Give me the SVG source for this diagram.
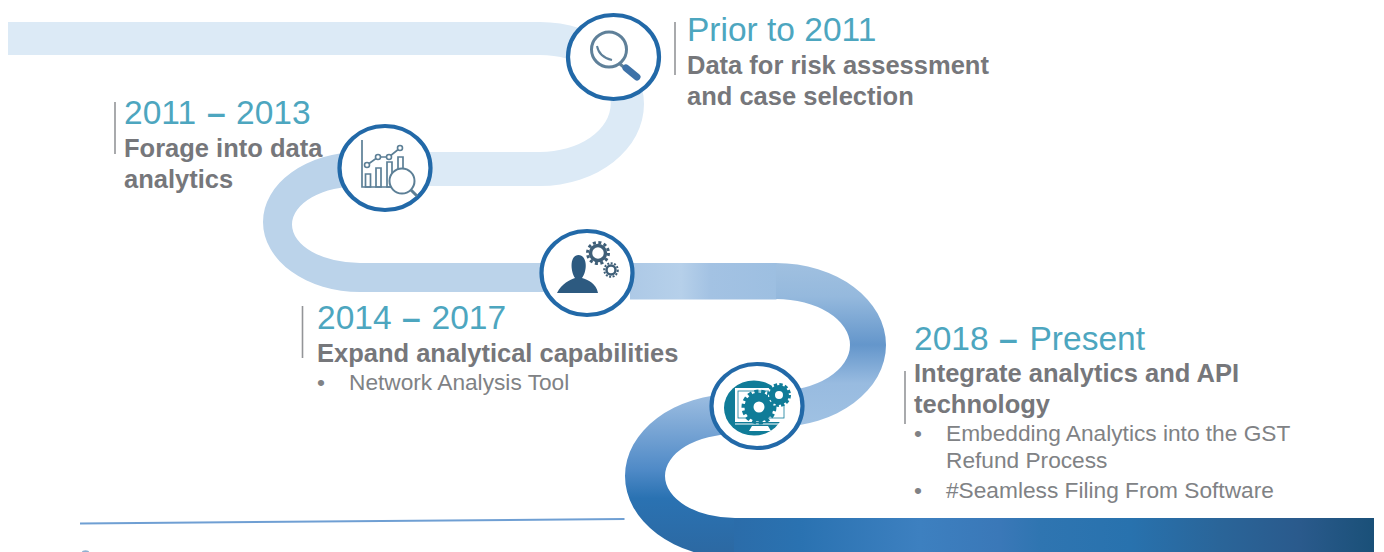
<svg xmlns="http://www.w3.org/2000/svg" width="1384" height="552" viewBox="0 0 1384 552">
<style>
text{font-family:"Liberation Sans",Arial,sans-serif}
.y{font-size:33.5px;fill:#4da6bf}
.d{font-weight:700}
.h{font-size:25.5px;font-weight:700;fill:#76777b}
.b{font-size:22.7px;fill:#808285}
.tick{stroke:#939598;stroke-width:1.6;fill:none}
.ring{fill:#fff;stroke:#2269a8;stroke-width:4.2}
.ln{fill:none;stroke:#5c7f96;stroke-width:1.7}
.dot{fill:#fff;stroke:#5c7f96;stroke-width:1.6}
.teal{fill:none;stroke:#107c98}
.grey{fill:none;stroke:#3f5f78}
</style>
<defs>
<linearGradient id="g3" gradientUnits="userSpaceOnUse" x1="0" y1="263" x2="0" y2="430">
<stop offset="0" stop-color="#a0c0e0"/><stop offset=".2" stop-color="#95b9dd"/><stop offset=".49" stop-color="#6496cb"/><stop offset=".72" stop-color="#98bbe0"/><stop offset="1" stop-color="#a0c2e3"/>
</linearGradient>
<linearGradient id="g3h" gradientUnits="userSpaceOnUse" x1="630" y1="0" x2="776" y2="0">
<stop offset="0" stop-color="#adc9e6"/><stop offset=".35" stop-color="#b6d0ea"/><stop offset=".55" stop-color="#a3c2e3"/><stop offset="1" stop-color="#9dbfe1"/>
</linearGradient>
<linearGradient id="g4" gradientUnits="userSpaceOnUse" x1="0" y1="394" x2="0" y2="552">
<stop offset="0" stop-color="#9dbee1"/><stop offset=".22" stop-color="#7aa6d5"/><stop offset=".48" stop-color="#4f8ac7"/><stop offset=".66" stop-color="#2a72b2"/><stop offset="1" stop-color="#2c69a3"/>
</linearGradient>
<linearGradient id="g4h" gradientUnits="userSpaceOnUse" x1="700" y1="0" x2="1374" y2="0">
<stop offset=".045" stop-color="#2b6ca9"/><stop offset=".148" stop-color="#2a72b1"/><stop offset=".326" stop-color="#3d80c0"/><stop offset=".445" stop-color="#3a78b8"/><stop offset=".504" stop-color="#2f75b1"/><stop offset=".638" stop-color="#2872ae"/><stop offset=".77" stop-color="#2a6599"/><stop offset=".89" stop-color="#2a5a8c"/><stop offset="1" stop-color="#1a5078"/>
</linearGradient>
</defs>
<g id="connectors">
<path d="M8 22H540A104 82 0 0 1 540 186H360V152H540A70 48 0 0 0 540 55H8Z" fill="#dceaf6"/>
<path d="M360 152A97 70 0 0 0 360 292H640V263H360A68 38.500 0 0 1 360 186Z" fill="#bbd3ea"/>
<rect x="630" y="263" width="146.500" height="36.500" fill="url(#g3h)"/>
<path d="M776 263A110 82 0 0 1 776 427V391A74 46 0 0 0 776 299Z" fill="url(#g3)"/>
<path d="M735 394A110 82 0 0 0 735 558V518A70 42 0 0 1 735 434Z" fill="url(#g4)"/>
<rect x="734" y="518" width="640" height="34" fill="url(#g4h)"/>
<path d="M80 523.500L624.500 519" fill="none" stroke="#6f9fd3" stroke-width="2"/>
<path d="M82 552a3.500 1.800 0 0 1 7 0Z" fill="#8fb0d0"/>
</g>
<g id="node-prior">
<ellipse class="ring" cx="613.500" cy="57" rx="45.500" ry="42"/>
<circle cx="609" cy="49.500" r="17.500" fill="none" stroke="#5f8099" stroke-width="3"/>
<path d="M597 46Q599 57 612 60" fill="none" stroke="#5f8099" stroke-width="2"/>
<path d="M620 64L626 69" stroke="#5f8099" stroke-width="3"/>
<path d="M626 68L637 77" stroke="#3e72a8" stroke-width="7" stroke-linecap="round"/>
<path class="tick" d="M675 22V75"/>
<text class="y" x="687" y="41">Prior to 2011</text>
<text class="h" x="687" y="74">Data for risk assessment</text>
<text class="h" x="687" y="105">and case selection</text>
</g>
<g id="node-2011">
<ellipse class="ring" cx="385" cy="168" rx="45.500" ry="42"/>
<path class="ln" d="M362 140V187H396"/>
<path class="ln" d="M365.500 174h5v13h-5zM376 168h5v19h-5zM387 162h5v25h-5zM398 157h5v19h-5z"/>
<path class="ln" d="M367 165L378 157L389 157L400 148"/>
<circle class="dot" cx="367" cy="165" r="2.500"/>
<circle class="dot" cx="378" cy="157" r="2.500"/>
<circle class="dot" cx="389" cy="157" r="2.500"/>
<circle class="dot" cx="400" cy="148" r="2.500"/>
<circle cx="402" cy="181" r="12.500" fill="#fff" stroke="#5c7f96" stroke-width="2"/>
<path d="M411 190L417 196" stroke="#5c7f96" stroke-width="3"/>
<path class="tick" d="M115 102V154"/>
<text class="y" x="124" y="124">2011 <tspan class="d" x="207">–</tspan> <tspan x="236">2013</tspan></text>
<text class="h" x="124" y="157">Forage into data</text>
<text class="h" x="124" y="188">analytics</text>
</g>
<g id="node-2014">
<ellipse class="ring" cx="587" cy="273" rx="45.500" ry="42"/>
<path d="M557 293C562 283 570 280 575 278C570 270 570 255 578.500 255C587 255 588 270 582 278C588 280 596 283 598 293Z" fill="#2d5a80"/>
<circle class="grey" cx="598" cy="253" r="7.500" stroke-width="3.500"/>
<circle class="grey" cx="598" cy="253" r="10.500" stroke-width="3" stroke-dasharray="3 2.500"/>
<circle class="grey" cx="611" cy="270" r="4.500" stroke-width="2.500"/>
<circle class="grey" cx="611" cy="270" r="6.800" stroke-width="2" stroke-dasharray="2 1.500"/>
<path class="tick" d="M302.500 306V358"/>
<text class="y" x="317" y="329">2014 <tspan class="d" x="402">–</tspan> <tspan x="431.500">2017</tspan></text>
<text class="h" x="317" y="362">Expand analytical capabilities</text>
<text class="b" x="317" y="390">•</text>
<text class="b" x="349" y="390">Network Analysis Tool</text>
</g>
<g id="node-2018">
<ellipse class="ring" cx="757" cy="406" rx="45.500" ry="42"/>
<ellipse cx="754" cy="408" rx="30" ry="27.500" fill="#107c98"/>
<rect x="735" y="388" width="51" height="34" fill="#fff"/>
<rect x="738" y="391" width="46" height="27" fill="none" stroke="#107c98" stroke-width=".8"/>
<path d="M735 424H786" stroke="#fff" stroke-width="1.200"/>
<path d="M752 426H768L771 431H749Z" fill="#fff"/>
<circle class="teal" cx="759" cy="407" r="10" stroke-width="9"/>
<circle class="teal" cx="759" cy="407" r="15.500" stroke-width="4" stroke-dasharray="4 2.800"/>
<circle cx="779" cy="395" r="11" fill="#fff"/>
<circle class="teal" cx="779" cy="395" r="7" stroke-width="6"/>
<circle class="teal" cx="779" cy="395" r="10.500" stroke-width="3" stroke-dasharray="3.300 2.200"/>
<path class="tick" d="M905 371V424"/>
<text class="y" x="914" y="350">2018 <tspan class="d" x="999">–</tspan> <tspan x="1029.500">Present</tspan></text>
<text class="h" x="914" y="382">Integrate analytics and API</text>
<text class="h" x="914" y="413">technology</text>
<text class="b" x="914" y="441">•</text>
<text class="b" x="946" y="441">Embedding Analytics into the GST</text>
<text class="b" x="946" y="468">Refund Process</text>
<text class="b" x="914" y="498">•</text>
<text class="b" x="946" y="498">#Seamless Filing From Software</text>
</g>
</svg>
